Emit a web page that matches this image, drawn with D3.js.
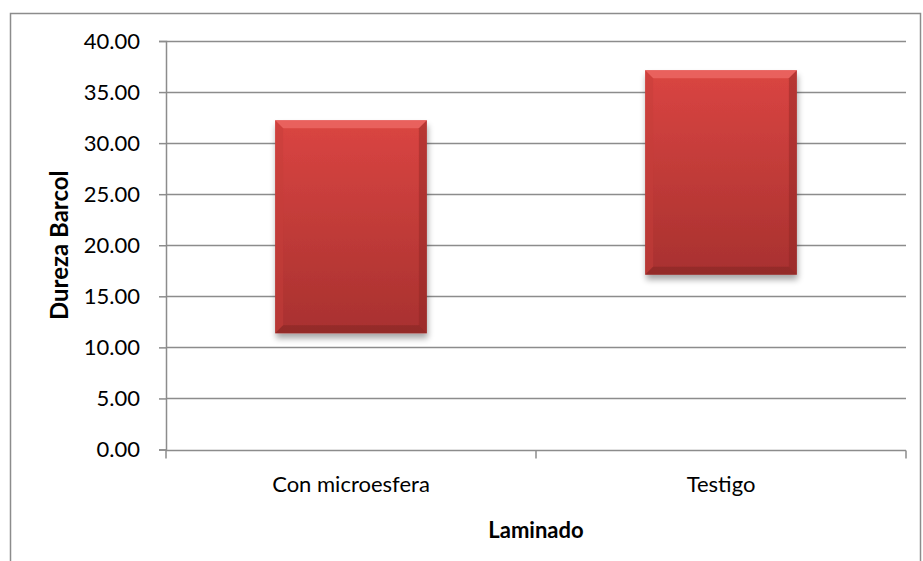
<!DOCTYPE html>
<html>
<head>
<meta charset="utf-8">
<script src="https://cdn.jsdelivr.net/npm/d3@7"></script>
<style>
  body { margin: 0; background: #fff; }
  svg { display: block; }
</style>
</head>
<body>
<div id="chart"></div>
<script>
// data
const categories = ["Con microesfera", "Testigo"];
const lowValues = [11.38, 17.12];
const highValues = [32.24, 37.14];
const yTicks = [0, 5, 10, 15, 20, 25, 30, 35, 40];

const width = 923, height = 561;
const margin = {left: 166, right: 17, top: 41, bottom: 112};

const svg = d3.select("#chart")
    .append("svg")
    .attr("width", width)
    .attr("height", height)
    .style("font-family", "Lato, 'Open Sans', sans-serif");

const defs = svg.append("defs");

const grad = defs.append("linearGradient")
    .attr("id", "barFill")
    .attr("x1", 0).attr("y1", 0).attr("x2", 0).attr("y2", 1);
grad.append("stop").attr("offset", "0%").attr("stop-color", "#da4542");
grad.append("stop").attr("offset", "100%").attr("stop-color", "#a8312f");

const shadow = defs.append("filter")
    .attr("id", "shadow")
    .attr("x", "-10%").attr("y", "-10%").attr("width", "125%").attr("height", "130%");
shadow.append("feGaussianBlur").attr("in", "SourceAlpha").attr("stdDeviation", 3);
shadow.append("feOffset").attr("dx", 1).attr("dy", 5).attr("result", "off");
shadow.append("feComponentTransfer").append("feFuncA").attr("type", "linear").attr("slope", 0.35);
const merge = shadow.append("feMerge");
merge.append("feMergeNode");
merge.append("feMergeNode").attr("in", "SourceGraphic");

// outer chart border
svg.append("rect")
    .attr("x", 10.5).attr("y", 13.5)
    .attr("width", 910).attr("height", 570)
    .attr("fill", "none")
    .attr("stroke", "#8c8c8c")
    .attr("stroke-width", 1.5);

const x = d3.scaleBand()
    .domain(categories)
    .range([margin.left, width - margin.right])
    .paddingInner(0.59)
    .paddingOuter(0.295);

const y = d3.scaleLinear()
    .domain([0, 40])
    .range([height - margin.bottom + 0.5, margin.top]);

// gridlines
svg.append("g")
    .selectAll("line")
    .data(yTicks.filter(d => d > 0))
    .join("line")
    .attr("x1", margin.left)
    .attr("x2", width - margin.right)
    .attr("y1", d => Math.round(y(d)) + 0.5)
    .attr("y2", d => Math.round(y(d)) + 0.5)
    .attr("stroke", "#8c8c8c")
    .attr("stroke-width", 1.5);

// y axis
const yAxis = svg.append("g")
    .attr("transform", `translate(${margin.left},0)`)
    .call(d3.axisLeft(y).tickValues(yTicks).tickFormat(d3.format(".2f")).tickSize(7).tickPadding(19));
yAxis.select(".domain").attr("stroke", "#8c8c8c").attr("stroke-width", 1.5);
yAxis.selectAll(".tick line").attr("stroke", "#8c8c8c").attr("stroke-width", 1.5);
yAxis.selectAll(".tick text").attr("font-size", 22).attr("fill", "#000").attr("font-family", "Lato, sans-serif");

// x axis (ticks at band boundaries)
const axisY = Math.round(y(0)) + 0.5;
svg.append("line")
    .attr("x1", margin.left).attr("x2", width - margin.right)
    .attr("y1", axisY).attr("y2", axisY)
    .attr("stroke", "#8c8c8c").attr("stroke-width", 1.5);

const step = (width - margin.right - margin.left) / categories.length;
svg.append("g")
    .selectAll("line")
    .data(d3.range(categories.length + 1))
    .join("line")
    .attr("x1", i => margin.left + i * step)
    .attr("x2", i => margin.left + i * step)
    .attr("y1", axisY)
    .attr("y2", axisY + 8)
    .attr("stroke", "#8c8c8c").attr("stroke-width", 1.5);

svg.append("g")
    .selectAll("text")
    .data(categories)
    .join("text")
    .attr("x", d => x(d) + x.bandwidth() / 2)
    .attr("y", 492)
    .attr("text-anchor", "middle")
    .attr("font-size", 22)
    .text(d => d);

// floating bars with bevel
const bars = svg.append("g")
    .selectAll("g")
    .data(categories.map((c, i) => ({cat: c, lo: lowValues[i], hi: highValues[i]})))
    .join("g");

const bev = 8;
bars.append("rect")
    .attr("x", d => x(d.cat))
    .attr("y", d => y(d.hi))
    .attr("width", x.bandwidth())
    .attr("height", d => y(d.lo) - y(d.hi))
    .attr("fill", "url(#barFill)")
    .attr("filter", "url(#shadow)");

// top bevel
bars.append("polygon")
    .attr("points", d => {
        const x0 = x(d.cat), x1 = x0 + x.bandwidth(), t = y(d.hi);
        return [[x0, t], [x1, t], [x1 - bev, t + bev], [x0 + bev, t + bev]].join(" ");
    })
    .attr("fill", "#f06d69").attr("opacity", 0.7);
// left bevel
bars.append("polygon")
    .attr("points", d => {
        const x0 = x(d.cat), t = y(d.hi), b = y(d.lo);
        return [[x0, t], [x0 + bev, t + bev], [x0 + bev, b - bev], [x0, b]].join(" ");
    })
    .attr("fill", "#c63d3a").attr("opacity", 0.5);
// right bevel
bars.append("polygon")
    .attr("points", d => {
        const x1 = x(d.cat) + x.bandwidth(), t = y(d.hi), b = y(d.lo);
        return [[x1, t], [x1 - bev, t + bev], [x1 - bev, b - bev], [x1, b]].join(" ");
    })
    .attr("fill", "#8f2624").attr("opacity", 0.45);
// bottom bevel
bars.append("polygon")
    .attr("points", d => {
        const x0 = x(d.cat), x1 = x0 + x.bandwidth(), b = y(d.lo);
        return [[x0, b], [x1, b], [x1 - bev, b - bev], [x0 + bev, b - bev]].join(" ");
    })
    .attr("fill", "#7f2422").attr("opacity", 0.5);

// axis titles
svg.append("text")
    .attr("x", (margin.left + width - margin.right) / 2)
    .attr("y", 538)
    .attr("text-anchor", "middle")
    .attr("font-size", 22)
    .attr("font-weight", "bold")
    .text("Laminado");

svg.append("text")
    .attr("transform", `translate(68,${(y(0) + y(40)) / 2}) rotate(-90)`)
    .attr("text-anchor", "middle")
    .attr("font-size", 24)
    .attr("font-weight", "bold")
    .text("Dureza Barcol");
</script>
</body>
</html>
